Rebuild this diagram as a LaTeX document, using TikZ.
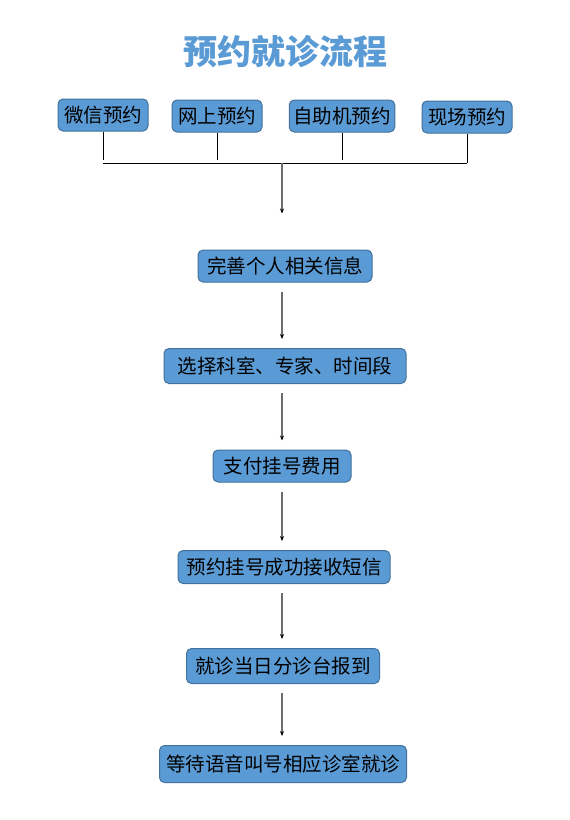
\documentclass[tikz,border=0pt]{standalone}
\usepackage{fontspec}
\setmainfont{Noto Sans CJK SC}
\usetikzlibrary{arrows.meta}
\definecolor{boxblue}{HTML}{5B9BD5}
\definecolor{boxline}{HTML}{41719C}
\tikzset{
  stepbox/.style={draw=boxline, fill=boxblue, rounded corners=5pt, line width=1pt,
    minimum height=32pt, inner xsep=4pt, inner ysep=2pt, font=\fontsize{19.5}{19.5}\selectfont},
  flow/.style={draw=gray!85!black, line width=1.2pt,
    -{Stealth[length=5pt,width=4pt,black]}, shorten <=9pt, shorten >=9pt}
}
\begin{document}
\begin{tikzpicture}[x=1pt,y=-1pt]
  \useasboundingbox (0,0) rectangle (570,820);
  % title
  \node[font=\fontsize{34}{34}\selectfont\bfseries, text=boxblue] (title) at (285,52) {预约就诊流程};
  % four ways to book
  \node[stepbox, minimum width=90pt] (wechat) at (103,115) {微信预约};
  \node[stepbox, minimum width=90pt] (web) at (217,116) {网上预约};
  \node[stepbox, minimum width=102pt] (kiosk) at (342,116) {自助机预约};
  \node[stepbox, minimum width=90pt] (site) at (467,117) {现场预约};
  \coordinate (bar) at (282,163);
  \draw[line width=0.8pt] (wechat.south) -- ([yshift=3pt]wechat.south |- bar);
  \draw[line width=0.8pt] (web.south) -- ([yshift=3pt]web.south |- bar);
  \draw[line width=0.8pt] (kiosk.south) -- ([yshift=3pt]kiosk.south |- bar);
  \draw[line width=0.8pt] (site.south) -- (site.south |- bar);
  \draw[line width=0.8pt] (wechat.south |- bar) -- (site.south |- bar);
  % main steps
  \node[stepbox, minimum width=174pt] (info) at (285,266) {完善个人相关信息};
  \node[stepbox, minimum width=242pt, minimum height=35pt] (dept) at (285,366) {选择科室、专家、时间段};
  \node[stepbox, minimum width=138pt] (pay) at (282,466) {支付挂号费用};
  \node[stepbox, minimum width=212pt, minimum height=33pt] (sms) at (284,567) {预约挂号成功接收短信};
  \node[stepbox, minimum width=193pt, minimum height=35pt] (desk) at (283,666) {就诊当日分诊台报到};
  \node[stepbox, minimum width=247pt, minimum height=37pt] (wait) at (283,764) {等待语音叫号相应诊室就诊};
  \draw[flow, shorten <=0pt, shorten >=36pt] (bar) -- (bar |- info.north);
  \draw[flow] (info.south -| bar) -- (dept.north -| bar);
  \draw[flow] (dept.south -| bar) -- (pay.north -| bar);
  \draw[flow] (pay.south -| bar) -- (sms.north -| bar);
  \draw[flow] (sms.south -| bar) -- (desk.north -| bar);
  \draw[flow] (desk.south -| bar) -- (wait.north -| bar);
\end{tikzpicture}
\end{document}
